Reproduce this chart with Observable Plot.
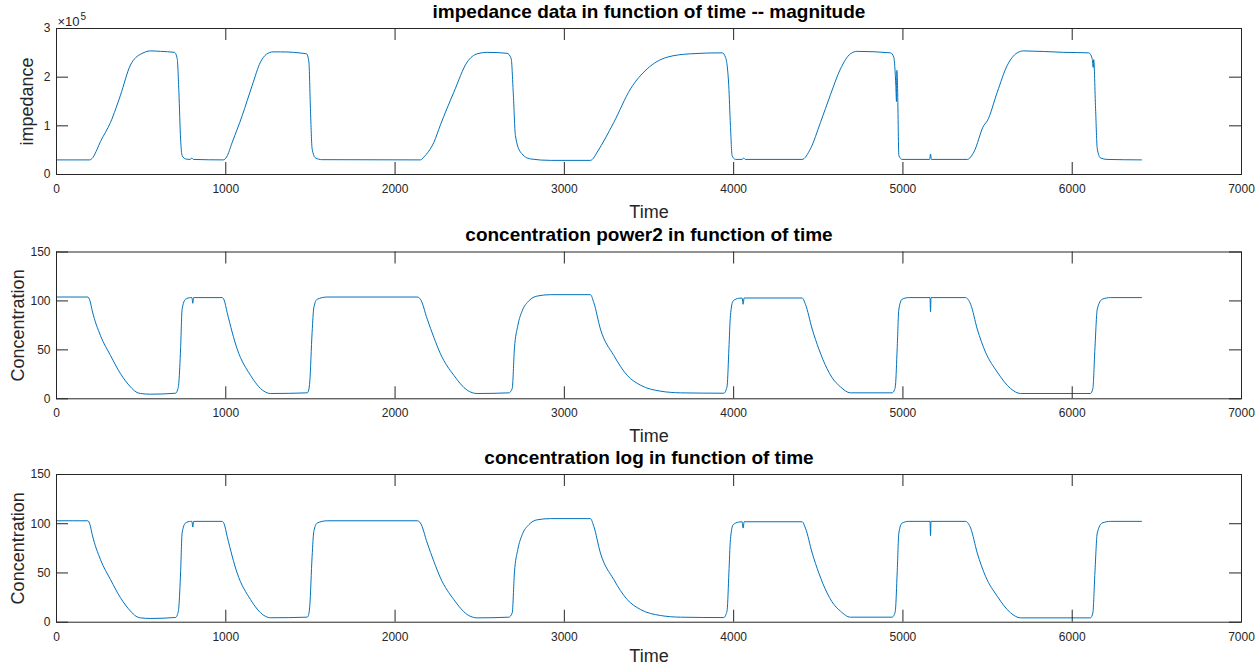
<!DOCTYPE html>
<html>
<head>
<meta charset="utf-8">
<script src="https://cdn.jsdelivr.net/npm/d3@7"></script>
<script src="https://cdn.jsdelivr.net/npm/@observablehq/plot@0.6"></script>
<style>
  html, body { margin: 0; padding: 0; background: #ffffff; }
  #chart { width: 1255px; height: 666px; overflow: hidden; }
  #chart svg { display: block; }
</style>
</head>
<body>
<div id="chart"></div>
<script>
// Impedance magnitude over time (ohm)
const impTime = [0, 195, 215, 240, 260, 290, 319, 350, 378, 437, 470, 496, 526, 555, 614, 697, 713, 723, 733, 742, 762, 790, 800, 808, 985,
  1005, 1038, 1097, 1156, 1205, 1240, 1280, 1323, 1477, 1491, 1500, 1510, 1530, 1569, 2150, 2170, 2229, 2268, 2347,
  2426, 2485, 2544, 2662, 2686, 2698, 2711, 2741, 2800, 2918, 3154, 3165, 3194, 3292, 3391, 3489, 3607, 3745, 3932,
  3952, 3971, 3981, 3991, 4011, 4050, 4060, 4068, 4404, 4454, 4513, 4572, 4631, 4690, 4730, 4927, 4946, 4958, 4962,
  4964, 4968, 4976, 4995, 5158, 5163, 5168, 5380, 5419, 5478, 5498, 5557, 5616, 5675, 5714, 5950, 6098, 6118, 6124,
  6127, 6138, 6148, 6167, 6206, 6409];
const impValue = [30000, 30000, 35000, 52000, 68000, 87000, 107000, 135000, 163000, 225000, 241000, 247000, 252000, 254000, 253000, 251000,
  238000, 169000, 73000, 39000, 32000, 31000, 34000, 31000, 30000,
  36000, 66000, 121000, 183000, 231000, 247000, 252000, 252000, 248000, 231000, 135000, 53000, 34000, 30500, 30000,
  36000, 66000, 102000, 169000,
  231000, 248000, 251000, 249000, 238000, 169000, 80000, 46000, 32000, 29000, 29000, 31000, 46000, 107000, 176000,
  217000, 241000, 248000, 250000,
  241000, 183000, 101000, 39000, 31000, 31000, 34000, 31000, 31000, 53000, 107000, 164000, 217000, 248000, 253000,
  250000, 241000, 183000, 150000,
  214000, 183000, 39000, 31000, 31000, 42000, 31000, 31000, 46000, 101000, 110000, 169000, 224000, 250000, 254000,
  251000, 250000, 238000, 220000,
  236000, 135000, 53000, 34000, 31000, 30000];

// Concentration estimates sampled on a shared time grid
const concTime = [0, 185, 198, 211, 260, 319, 378, 437, 470, 496, 555, 703, 715, 723, 733, 742, 762, 792, 800, 805,
  810, 979, 990, 1008, 1067, 1146, 1225, 1264, 1481, 1490, 1496, 1510, 1520, 1540, 1599, 2131, 2150, 2190, 2229, 2268,
  2347, 2426, 2485, 2672, 2692, 2705, 2725, 2751, 2790, 2840, 2918, 3154, 3174, 3213, 3292, 3371, 3450, 3568, 3686,
  3942, 3955, 3962, 3972, 3981, 3997, 4030, 4050, 4056, 4062, 4404, 4424, 4464, 4503, 4552, 4580, 4631, 4690, 4936,
  4950, 4956, 4966, 4976, 4995, 5034, 5160, 5163, 5166, 5370, 5400, 5439, 5488, 5557, 5636, 5695, 6108, 6122, 6134,
  6148, 6177, 6226, 6409];
const concPower2 = [104, 104, 100, 90, 64.5, 44.3, 25.7, 12.2, 7, 5.4, 4.7, 5.7, 9, 17.2, 51, 91.6, 101.7, 103.4,
  103.4, 97.6, 103.4, 103.4, 101, 88.2, 51, 24, 7.8, 5.4, 6.1, 9, 17.2, 67.9, 93.2, 101.7, 104, 104, 101.7, 81.4,
  62.8, 46, 24, 8.8, 5.4, 6.1, 10.5, 51, 74.7, 89.9, 100, 105, 106.4, 106.4, 98.3, 71.3, 44.3, 24, 13.9, 7.8, 6.1,
  5.7, 9, 13.9, 51, 84.8, 100, 102.7, 103, 96.6, 103, 103, 96.6, 71.3, 51, 30.7, 22, 12.2, 6.1, 6.1, 9, 13.9, 51,
  91.6, 101.7, 103.4, 103.4, 88.9, 103.4, 103.4, 96.6, 71.3, 47.6, 27.4, 10.5, 5.4, 5.4, 10.5, 51, 91.6, 101.7,
  103.4, 103.4];
const concLog = [103, 103, 99, 89, 63.5, 43.3, 24.8, 11.3, 6, 4.4, 3.8, 4.8, 8, 16.2, 50, 90.6, 100.7, 102.4, 102.4,
  96.6, 102.4, 102.4, 100, 87.2, 50, 23, 6.9, 4.5, 5.1, 8, 16.2, 66.9, 92.2, 100.7, 103, 103, 100.7, 80.4, 61.8, 45,
  23, 7.8, 4.4, 5.1, 9.5, 50, 73.7, 88.9, 99, 104, 105.2, 105.2, 97.3, 70.3, 43.3, 23, 12.9, 6.8, 5.1, 4.7, 8, 12.9,
  50, 83.8, 99, 101.7, 102, 95.6, 102, 102, 95.6, 70.3, 50, 29.7, 21, 11.2, 5.1, 5.1, 8, 12.9, 50, 90.6, 100.7,
  102.4, 102.4, 87.9, 102.4, 102.4, 95.6, 70.3, 46.6, 26.4, 9.5, 4.4, 4.4, 9.5, 50, 90.6, 100.7, 102.4, 102.4];

// Axis ticks
const timeTicks = [0, 1000, 2000, 3000, 4000, 5000, 6000, 7000];
const impTicks = [0, 100000, 200000, 300000];
const concTicks = [0, 50, 100, 150];

const FONT = '"Liberation Sans", Arial, Helvetica, sans-serif';
const INK = "#262626";
const LINE = "#0072BD";
const W = 1255, H = 222, ML = 56, MR = 14, TICK = 12;

function panel({time, values, yMax, yTicks, yFormat, title, ylabel, ylabelOffset, timeOffset, marginTop, marginBottom, exponent}) {
  const innerH = H - marginTop - marginBottom;
  const innerW = W - ML - MR;
  const rows = time.map((t, i) => ({t, v: values[i]}));
  const marks = [
    Plot.line(rows, {x: "t", y: "v", stroke: LINE, strokeWidth: 1, curve: "monotone-x"}),
    // inward ticks on all four sides of the box
    Plot.ruleX(timeTicks, {insetTop: innerH - TICK, stroke: INK}),
    Plot.ruleX(timeTicks, {insetBottom: innerH - TICK, stroke: INK}),
    Plot.ruleY(yTicks, {insetRight: innerW - TICK, stroke: INK}),
    Plot.ruleY(yTicks, {insetLeft: innerW - TICK, stroke: INK}),
    Plot.frame({stroke: INK}),
    Plot.axisX(timeTicks, {tickSize: 0, tickPadding: 10, fontSize: 12, label: null, fill: INK, tickFormat: d => String(d)}),
    Plot.axisY(yTicks, {tickSize: 0, tickPadding: 6, fontSize: 12, label: null, fill: INK, tickFormat: yFormat}),
    Plot.text([title], {frameAnchor: "top", dy: -11, lineAnchor: "bottom", fontWeight: "bold", fontSize: 19, fill: "#000"}),
    Plot.text(["Time"], {frameAnchor: "bottom", dy: timeOffset, lineAnchor: "bottom", fontSize: 18, fill: INK}),
    Plot.text([ylabel], {frameAnchor: "left", textAnchor: "middle", rotate: -90, dx: ylabelOffset, lineAnchor: "bottom", fontSize: 18, fill: INK})
  ];
  if (exponent) {
    marks.push(Plot.text(["×10"], {frameAnchor: "top-left", dx: 1, dy: -3, textAnchor: "start", lineAnchor: "bottom", fontSize: 13, fill: INK}));
    marks.push(Plot.text([exponent], {frameAnchor: "top-left", dx: 24, dy: -9, textAnchor: "start", lineAnchor: "bottom", fontSize: 10, fill: INK}));
  }
  return Plot.plot({
    width: W, height: H,
    marginLeft: ML, marginRight: MR, marginTop, marginBottom,
    style: {fontFamily: FONT, color: INK, background: "#ffffff", overflow: "visible"},
    x: {domain: [0, 7000]},
    y: {domain: [0, yMax]},
    marks
  });
}

const chart = document.getElementById("chart");
chart.append(panel({
  time: impTime, values: impValue, yMax: 300000, yTicks: impTicks, yFormat: d => String(d / 100000),
  title: "impedance data in function of time -- magnitude", ylabel: "impedance", ylabelOffset: -24, timeOffset: 43,
  marginTop: 28, marginBottom: 48, exponent: "5"
}));
chart.append(panel({
  time: concTime, values: concPower2, yMax: 150, yTicks: concTicks, yFormat: d => String(d),
  title: "concentration power2 in function of time", ylabel: "Concentration", ylabelOffset: -33, timeOffset: 43,
  marginTop: 29.5, marginBottom: 45.7
}));
chart.append(panel({
  time: concTime, values: concLog, yMax: 150, yTicks: concTicks, yFormat: d => String(d),
  title: "concentration log in function of time", ylabel: "Concentration", ylabelOffset: -33, timeOffset: 39.5,
  marginTop: 30, marginBottom: 44.3
}));
</script>
</body>
</html>
